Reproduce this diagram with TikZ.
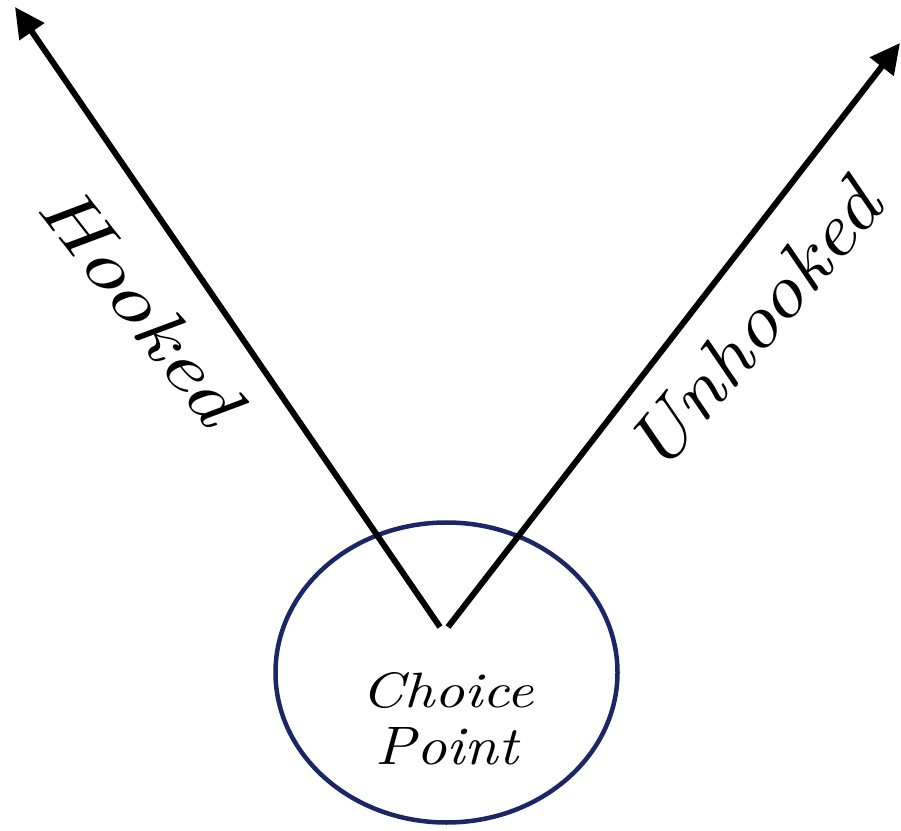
\documentclass[tikz,border=0pt]{standalone}
\usetikzlibrary{arrows.meta,shapes.geometric}
\definecolor{navyline}{RGB}{28,38,102}
\tikzset{
  choicering/.style={draw=navyline, line width=4.5pt, ellipse, minimum width=342pt, minimum height=300pt, inner sep=0pt, outer sep=0pt},
  patharrow/.style={draw=black, line width=6pt, -{Triangle[length=30pt,width=29pt]}},
  pathlabel/.style={inner sep=0pt, font=\itshape},
  ringlabel/.style={inner sep=0pt, anchor=base, font=\itshape}
}
\begin{document}
\begin{tikzpicture}[x=1pt,y=1pt]
\useasboundingbox (0,0) rectangle (901,830);
\fill[white] (0,0) rectangle (901,830);
\node[choicering] (cp) at (446.5,157.5) {};
\coordinate (vl) at (440,203);
\coordinate (vr) at (448,203);
\coordinate (tl) at (15,823);
\coordinate (tr) at (900,787);
\draw[patharrow] (vl) -- (tl);
\draw[patharrow] (vr) -- (tr);
\node[pathlabel, rotate=-52] (hk) at (141,526) {\resizebox{280pt}{50pt}{Hooked}};
\node[pathlabel, rotate=50] (uh) at (754,504) {\resizebox{350pt}{52pt}{Unhooked}};
\node[ringlabel] (c1) at (448,123) {\resizebox{172pt}{35pt}{Choice}};
\node[ringlabel] (c2) at (447,66) {\resizebox{142pt}{37pt}{Point}};
\end{tikzpicture}
\end{document}
